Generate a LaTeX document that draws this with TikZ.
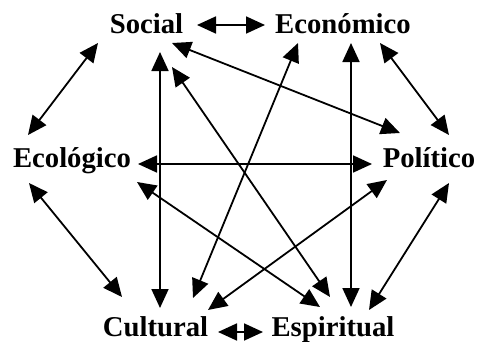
\documentclass[tikz,border=0pt]{standalone}
\usepackage{fontspec}
\setmainfont{Liberation Serif}
\usetikzlibrary{arrows.meta}
\begin{document}
\begin{tikzpicture}[x=1pt,y=-1pt,
  lbl/.style={anchor=base,inner sep=0pt,font=\fontsize{28.7}{30}\selectfont\bfseries},
  arr/.style={line width=1.8pt,{Triangle[length=19pt,width=17pt]}-{Triangle[length=19pt,width=17pt]}}]
\useasboundingbox (0,0) rectangle (477,341);
\node[lbl] (soc) at (146.5,33) {Social};
\node[lbl] (eco) at (343,33) {Económico};
\node[lbl] (ecl) at (72,167) {Ecológico};
\node[lbl] (pol) at (429,167) {Político};
\node[lbl] (cul) at (155.5,336) {Cultural};
\node[lbl] (esp) at (333,336) {Espiritual};
% outer ring
\draw[arr] ([shift={(50.5,-8)}]soc.base) -- ([shift={(-78,-8)}]eco.base);
\draw[arr] ([shift={(-48.5,10)}]soc.base) -- ([shift={(-44,-32)}]ecl.base);
\draw[arr] ([shift={(37,10)}]eco.base) -- ([shift={(20,-32)}]pol.base);
\draw[arr] ([shift={(-43,16)}]ecl.base) -- ([shift={(-33.5,-39)}]cul.base);
\draw[arr] ([shift={(20,16)}]pol.base) -- ([shift={(36,-26)}]esp.base);
\draw[arr] ([shift={(62.5,-4)}]cul.base) -- ([shift={(-70,-4)}]esp.base);
% inner
\draw[arr] ([shift={(66,-3)}]ecl.base) -- ([shift={(-57,-3)}]pol.base);
\draw[arr] ([shift={(13.5,19)}]soc.base) -- ([shift={(4.5,-28)}]cul.base);
\draw[arr] ([shift={(8,10)}]eco.base) -- ([shift={(18,-29)}]esp.base);
\draw[arr] ([shift={(25.5,10)}]soc.base) -- ([shift={(-29,-34)}]pol.base);
\draw[arr] ([shift={(25.5,34)}]soc.base) -- ([shift={(-3,-39)}]esp.base);
\draw[arr] ([shift={(-45,10)}]eco.base) -- ([shift={(37.5,-38)}]cul.base);
\draw[arr] ([shift={(65,15)}]ecl.base) -- ([shift={(-13,-29)}]esp.base);
\draw[arr] ([shift={(-42,13)}]pol.base) -- ([shift={(52.5,-26)}]cul.base);
\end{tikzpicture}
\end{document}
